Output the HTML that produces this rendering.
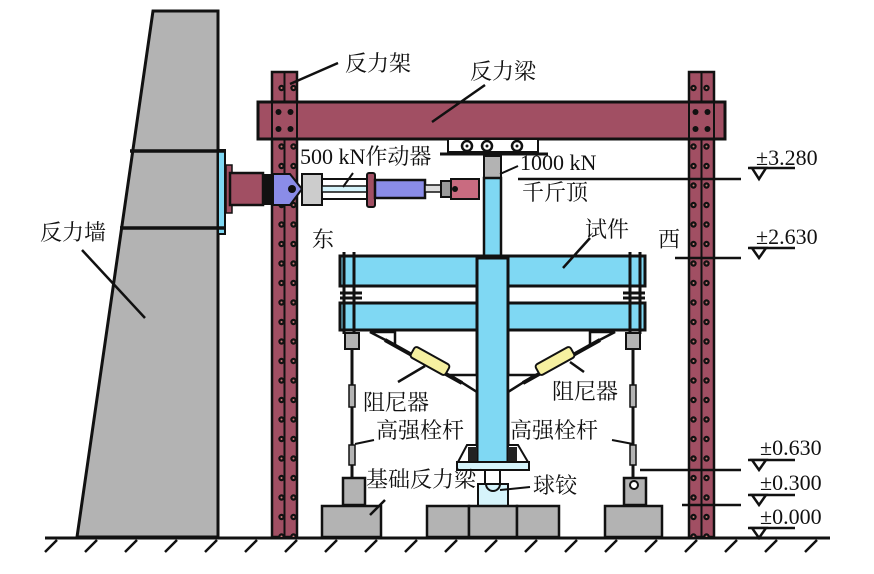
<!DOCTYPE html>
<html><head><meta charset="utf-8"><style>
html,body{margin:0;padding:0;background:#fff;width:874px;height:574px;overflow:hidden}
text{font-family:"Liberation Serif","Noto Serif CJK SC",serif;font-size:22px;fill:#111}
</style></head><body>
<svg width="874" height="574" viewBox="0 0 874 574" xmlns="http://www.w3.org/2000/svg">
<defs>
<pattern id="dots" x="0" y="0" width="25" height="19.5" patternUnits="userSpaceOnUse">
<circle cx="6.5" cy="10" r="3.2" fill="#111"/><circle cx="18.5" cy="10" r="3.2" fill="#111"/>
<circle cx="6.5" cy="10" r="1" fill="#c77"/><circle cx="18.5" cy="10" r="1" fill="#c77"/>
</pattern>
</defs>
<line x1="45" y1="538" x2="830" y2="538" stroke="#111" stroke-width="3"/>
<g stroke="#111" stroke-width="2.5">
<path d="M45 552l12-12M85 552l12-12M125 552l12-12M165 552l12-12M205 552l12-12M245 552l12-12M285 552l12-12M325 552l12-12M365 552l12-12M405 552l12-12M445 552l12-12M485 552l12-12M525 552l12-12M565 552l12-12M605 552l12-12M645 552l12-12M685 552l12-12M725 552l12-12M765 552l12-12M805 552l12-12"/>
</g>
<polygon points="153,11 218,11 218,537 77,537" fill="#b3b3b3" stroke="#111" stroke-width="3"/>
<rect x="218" y="150" width="7" height="84" fill="#7fd8f3" stroke="#111" stroke-width="2"/>
<line x1="130" y1="151" x2="226" y2="151" stroke="#111" stroke-width="3.5"/>
<line x1="120" y1="228" x2="226" y2="228" stroke="#111" stroke-width="3.5"/>
<line x1="82" y1="250" x2="145" y2="318" stroke="#111" stroke-width="2.5"/>
<text x="40" y="240">反力墙</text>
<g>
<rect x="272" y="72" width="25" height="465" fill="#a14f63" stroke="#111" stroke-width="2.5"/>
<rect x="272" y="72" width="25" height="465" fill="url(#dots)"/>
<line x1="284.5" y1="72" x2="284.5" y2="537" stroke="#111" stroke-width="2"/>
<rect x="689" y="72" width="25" height="465" fill="#a14f63" stroke="#111" stroke-width="2.5"/>
<rect x="689" y="72" width="25" height="465" fill="url(#dots)"/>
<line x1="701.5" y1="72" x2="701.5" y2="537" stroke="#111" stroke-width="2"/>
</g>
<rect x="258" y="102" width="467" height="37" fill="#a14f63" stroke="#111" stroke-width="3"/>
<g fill="#111"><circle cx="278.5" cy="112" r="3"/><circle cx="290.5" cy="112" r="3"/><circle cx="278.5" cy="129" r="3"/><circle cx="290.5" cy="129" r="3"/>
<circle cx="695.5" cy="112" r="3"/><circle cx="707.5" cy="112" r="3"/><circle cx="695.5" cy="129" r="3"/><circle cx="707.5" cy="129" r="3"/></g>
<line x1="272" y1="102" x2="272" y2="139" stroke="#111" stroke-width="2"/><line x1="297" y1="102" x2="297" y2="139" stroke="#111" stroke-width="2"/>
<line x1="689" y1="102" x2="689" y2="139" stroke="#111" stroke-width="2"/><line x1="714" y1="102" x2="714" y2="139" stroke="#111" stroke-width="2"/>
<line x1="290" y1="84" x2="338" y2="63" stroke="#111" stroke-width="2.5"/>
<text x="345" y="71">反力架</text>
<line x1="432" y1="122" x2="485" y2="85" stroke="#111" stroke-width="2.5"/>
<text x="470" y="79">反力梁</text>
<rect x="448" y="139" width="90" height="13" fill="#fff" stroke="#111" stroke-width="2"/>
<g fill="#fff" stroke="#111" stroke-width="2.5"><circle cx="467" cy="146" r="5"/><circle cx="487" cy="146" r="5"/><circle cx="517" cy="146" r="5"/></g>
<g fill="#111"><circle cx="467" cy="146" r="1.5"/><circle cx="487" cy="146" r="1.5"/><circle cx="517" cy="146" r="1.5"/></g>
<line x1="440" y1="154" x2="548" y2="154" stroke="#111" stroke-width="3"/>
<rect x="484" y="156" width="17" height="22" fill="#b3b3b3" stroke="#111" stroke-width="2"/>
<rect x="484" y="178" width="17" height="80" fill="#7fd8f3" stroke="#111" stroke-width="2.5"/>
<line x1="500" y1="174" x2="518" y2="166" stroke="#111" stroke-width="2"/>
<rect x="226" y="165" width="6" height="48" fill="#a14f63" stroke="#111" stroke-width="1.5"/>
<rect x="230" y="173" width="33" height="32" fill="#a14f63" stroke="#111" stroke-width="2.5"/>
<rect x="263" y="174" width="10" height="31" fill="#111"/>
<path d="M273 174h17l12 15-12 16h-17z" fill="#8a8ce8" stroke="#111" stroke-width="2"/>
<circle cx="292" cy="189" r="4" fill="#111"/>
<rect x="302" y="174" width="20" height="31" fill="#ccc" stroke="#111" stroke-width="2"/>
<rect x="322" y="179" width="46" height="20" fill="#fff" stroke="#111" stroke-width="2"/>
<rect x="322" y="186" width="46" height="6" fill="#d6f4fb" stroke="#111" stroke-width="1.5"/>
<rect x="367" y="173" width="8" height="34" rx="2" fill="#a14f63" stroke="#111" stroke-width="2"/>
<rect x="375" y="180" width="50" height="18" fill="#8a8ce8" stroke="#111" stroke-width="2.5"/>
<rect x="425" y="185" width="16" height="7" fill="#ddd" stroke="#111" stroke-width="1.5"/>
<path d="M441 181h10v16h-10z" fill="#999" stroke="#111" stroke-width="2"/>
<path d="M451 179h28v20h-28z" fill="#c96b80" stroke="#111" stroke-width="2"/>
<circle cx="455" cy="189" r="3" fill="#111"/>
<line x1="343" y1="187" x2="353" y2="173" stroke="#111" stroke-width="2"/>
<text x="300" y="164">500 kN作动器</text>
<text x="520" y="170">1000 kN</text>
<line x1="518" y1="179" x2="741" y2="179" stroke="#111" stroke-width="2.5"/>
<text x="522" y="200">千斤顶</text>
<rect x="340" y="256" width="305" height="30" fill="#7fd8f3" stroke="#111" stroke-width="3"/>
<rect x="340" y="303" width="305" height="27" fill="#7fd8f3" stroke="#111" stroke-width="3"/>
<g stroke="#111" stroke-width="3">
<line x1="344" y1="252" x2="344" y2="334"/><line x1="354" y1="252" x2="354" y2="334"/>
<line x1="630" y1="252" x2="630" y2="334"/><line x1="640" y1="252" x2="640" y2="334"/>
<line x1="340" y1="293" x2="362" y2="293"/><line x1="340" y1="298" x2="362" y2="298"/>
<line x1="623" y1="293" x2="645" y2="293"/><line x1="623" y1="298" x2="645" y2="298"/>
</g>
<rect x="477" y="258" width="31" height="210" fill="#7fd8f3" stroke="#111" stroke-width="3"/>
<line x1="563" y1="268" x2="590" y2="238" stroke="#111" stroke-width="2.5"/>
<text x="585" y="237">试件</text>
<text x="312" y="247">东</text>
<text x="658" y="247">西</text>
<g fill="#fff" stroke="#111" stroke-width="2.5">
<polygon points="370,332 395,332 395,345"/><polygon points="615,332 590,332 590,345"/>
<polygon points="450,375 477,375 477,392"/><polygon points="535,375 508,375 508,392"/>
</g>
<g stroke="#111" stroke-width="4"><line x1="385" y1="340" x2="462" y2="383"/><line x1="600" y1="340" x2="523" y2="383"/></g>
<g fill="#f6f0a0" stroke="#111" stroke-width="2">
<rect x="-20" y="-6" width="40" height="12" rx="3" transform="translate(430,361) rotate(29)"/>
<rect x="-20" y="-6" width="40" height="12" rx="3" transform="translate(555,361) rotate(-29)"/>
</g>
<line x1="398" y1="382" x2="425" y2="366" stroke="#111" stroke-width="2.5"/>
<line x1="584" y1="372" x2="570" y2="362" stroke="#111" stroke-width="2.5"/>
<text x="363" y="410">阻尼器</text>
<text x="552" y="399">阻尼器</text>
<rect x="345" y="333" width="14" height="16" fill="#b3b3b3" stroke="#111" stroke-width="2"/>
<rect x="626" y="333" width="14" height="16" fill="#b3b3b3" stroke="#111" stroke-width="2"/>
<g stroke="#111" stroke-width="3"><line x1="352" y1="349" x2="352" y2="478"/><line x1="633" y1="349" x2="633" y2="478"/></g>
<g fill="#b3b3b3" stroke="#111" stroke-width="1.5"><rect x="349" y="385" width="6" height="22"/><rect x="349" y="445" width="6" height="20"/><rect x="630" y="385" width="6" height="22"/><rect x="630" y="445" width="6" height="20"/></g>
<line x1="355" y1="444" x2="374" y2="440" stroke="#111" stroke-width="2"/>
<line x1="612" y1="440" x2="633" y2="444" stroke="#111" stroke-width="2"/>
<text x="376" y="438">高强栓杆</text>
<text x="510" y="438">高强栓杆</text>
<polygon points="467,445 477,445 477,462 458,462" fill="#fff" stroke="#111" stroke-width="2"/>
<polygon points="508,445 518,445 528,462 508,462" fill="#fff" stroke="#111" stroke-width="2"/>
<rect x="468" y="447" width="9" height="15" fill="#222"/><rect x="508" y="447" width="9" height="15" fill="#222"/>
<rect x="457" y="462" width="72" height="8" fill="#d6f4fb" stroke="#111" stroke-width="2"/>
<rect x="485" y="470" width="15" height="14" fill="#fff" stroke="#111" stroke-width="2"/>
<rect x="478" y="484" width="30" height="22" fill="#d6f4fb" stroke="#111" stroke-width="2"/>
<path d="M486 484a7 7 0 0 0 14 0" fill="none" stroke="#111" stroke-width="2"/>
<line x1="500" y1="490" x2="530" y2="487" stroke="#111" stroke-width="2"/>
<text x="533" y="493">球铰</text>
<rect x="343" y="478" width="22" height="27" fill="#b3b3b3" stroke="#111" stroke-width="2.5"/>
<rect x="624" y="478" width="22" height="27" fill="#b3b3b3" stroke="#111" stroke-width="2.5"/>
<circle cx="634" cy="485" r="4" fill="#fff" stroke="#111" stroke-width="2"/>
<g fill="#b3b3b3" stroke="#111" stroke-width="2.5">
<rect x="322" y="506" width="59" height="31"/>
<rect x="427" y="506" width="42" height="31"/><rect x="469" y="506" width="48" height="31"/><rect x="517" y="506" width="42" height="31"/>
<rect x="605" y="506" width="57" height="31"/>
</g>
<line x1="370" y1="515" x2="385" y2="500" stroke="#111" stroke-width="2.5"/>
<text x="366" y="487">基础反力梁</text>
<g stroke="#111" stroke-width="2.5">
<line x1="675" y1="258" x2="741" y2="258"/>
<line x1="640" y1="470" x2="741" y2="470"/>
<line x1="682" y1="505" x2="741" y2="505"/>
</g>
<g stroke="#111" stroke-width="2.5" fill="#fff">
<line x1="748" y1="168" x2="795" y2="168"/><polygon points="752,168 766,168 759,179"/>
<line x1="748" y1="248" x2="795" y2="248"/><polygon points="752,248 766,248 759,258"/>
<line x1="748" y1="460" x2="795" y2="460"/><polygon points="752,460 766,460 759,470"/>
<line x1="748" y1="495" x2="795" y2="495"/><polygon points="752,495 766,495 759,505"/>
<line x1="748" y1="528" x2="795" y2="528"/><polygon points="752,528 766,528 759,538"/>
</g>
<text x="756" y="165">±3.280</text>
<text x="756" y="244">±2.630</text>
<text x="760" y="455">±0.630</text>
<text x="760" y="490">±0.300</text>
<text x="760" y="524">±0.000</text>
</svg>
</body></html>
